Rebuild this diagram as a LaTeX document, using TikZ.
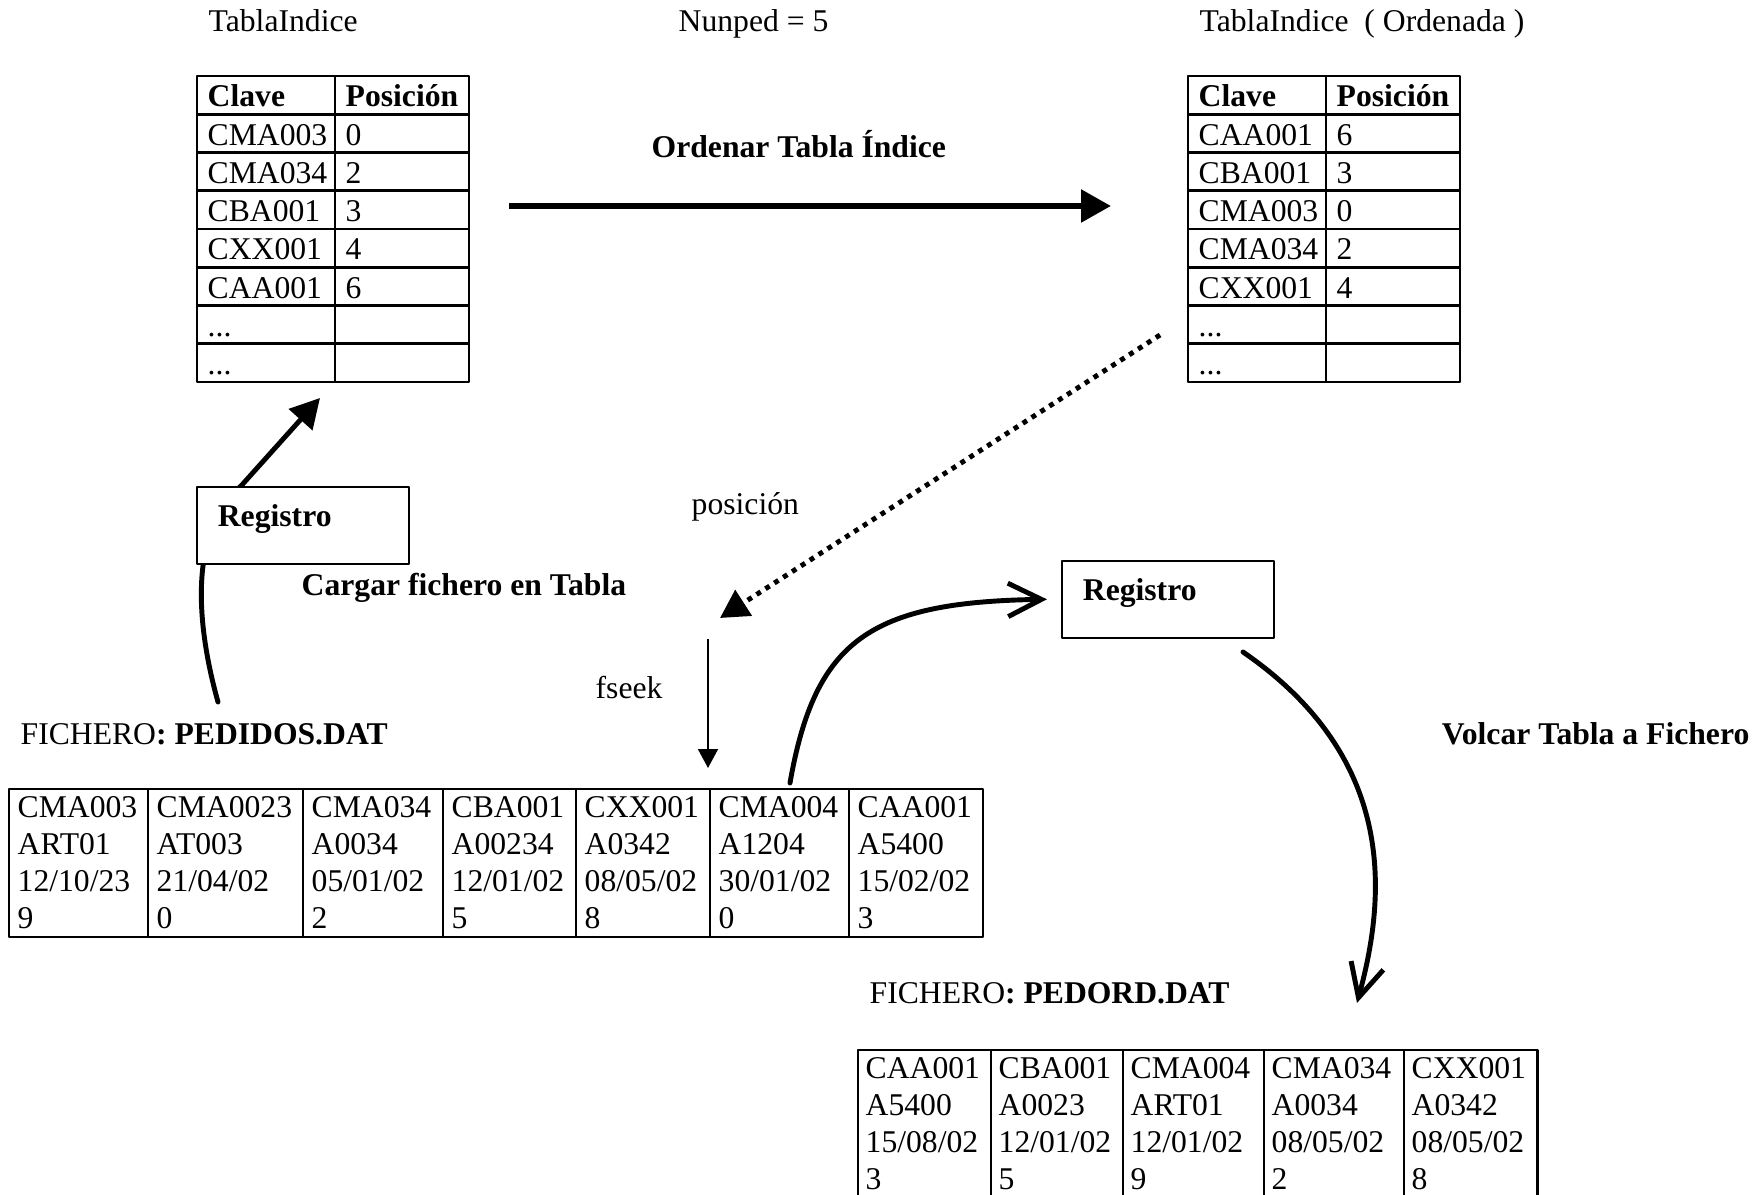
\documentclass[tikz,border=0pt]{standalone}
\usepackage{fontspec}
\setmainfont{Liberation Serif}
\usetikzlibrary{arrows.meta}
\newcommand\tamano{\fontsize{9}{10.44}\selectfont}
\newcommand\suspensivos{...}
\tikzset{
  celda/.style={anchor=base west,inner sep=0pt},
  rotulo/.style={anchor=base west,inner sep=0pt},
  negrita/.style={font=\tamano\bfseries},
  rejilla/.style={line width=0.75pt},
  regbox/.style={draw,fill=white,line width=0.45pt,anchor=north west,align=left,
    text width=48.4pt,inner xsep=6pt,inner ysep=0pt,text height=11.4pt,text depth=10.5pt,
    font=\tamano\bfseries},
  gruesa/.style={line width=1.8pt,-{Triangle[length=8.5pt,width=9pt]}},
  punteada/.style={line width=1.4pt,dash pattern=on 1.4pt off 1.6pt,-{Triangle[length=8pt,width=8.5pt]}},
  curva/.style={line width=1.4pt,line cap=round,-{Straight Barb[length=9.5pt,width=9.5pt]}}
}
\begin{document}
\begin{tikzpicture}[x=0.01cm,y=-0.01cm,font=\tamano,line join=round]
\useasboundingbox (0,0) rectangle (1763,1195);
\node[rotulo] (titulo1) at (208,32) {TablaIndice};
\node[rotulo] (nunped) at (678,32) {Nunped = 5};
\node[rotulo] (titulo2) at (1199,32) {TablaIndice\ \ ( Ordenada )};

\foreach \dx/\tab/\filas in {0/izq/{CMA003/0,CMA034/2,CBA001/3,CXX001/4,CAA001/6,\suspensivos/{},\suspensivos/{}},
    991/der/{CAA001/6,CBA001/3,CMA003/0,CMA034/2,CXX001/4,\suspensivos/{},\suspensivos/{}}}{
  \draw[rejilla] (\dx+197,76) rectangle (\dx+469,382) (\dx+335,76) -- (\dx+335,382);
  \foreach \i in {1,...,7} \draw[rejilla] (\dx+197,76+38.25*\i) -- (\dx+469,76+38.25*\i);
  \node[celda,negrita] (\tab-c0) at (\dx+207,107) {Clave};
  \node[celda,negrita] (\tab-p0) at (\dx+345,107) {Posición};
  \foreach \k/\p [count=\i] in \filas {
    \node[celda] (\tab-c\i) at (\dx+207,107+38.25*\i) {\k};
    \node[celda] (\tab-p\i) at (\dx+345,107+38.25*\i) {\p};
  }
}

\node[rotulo,negrita] (ordenar) at (651,158) {Ordenar Tabla Índice};
\coordinate (ord-a) at (509,206);
\coordinate (ord-b) at (1111,206);
\draw[gruesa] (ord-a) -- (ord-b);

\coordinate (pos-a) at (1160,335);
\coordinate (pos-b) at (720,618);
\draw[punteada] (pos-a) -- (pos-b);
\node[rotulo] (posicion) at (691,515) {posición};

\coordinate (car-a) at (218,702);
\coordinate (car-b) at (320,398);
\draw[line width=1.4pt,line cap=round,-{Triangle[length=8.3pt,width=8.8pt]}]
  (car-a) .. controls (195,620) and (190,530) .. (241,486) -- (car-b);
\node[regbox] (reg1) at (196,486) {Registro};
\node[rotulo,negrita] (cargar) at (301,596) {Cargar fichero en Tabla};

\node[regbox] (reg2) at (1061,560) {Registro};
\coordinate (lee-a) at (790,783);
\draw[curva] (lee-a) .. controls (815,640) and (870,602) .. ([xshift=-4pt]reg2.west);
\coordinate (vol-a) at (1243,652);
\coordinate (vol-b) at (1357,1003);
\draw[curva] (vol-a) .. controls (1400,760) and (1385,900) .. (vol-b);
\node[anchor=base east,inner sep=0pt,negrita] (volcar) at (1750,745) {Volcar Tabla a Fichero};

\coordinate (fs-a) at (708,639);
\coordinate (fs-b) at (708,768);
\draw[line width=0.45pt,-{Triangle[length=5.4pt,width=5.7pt]}] (fs-a) -- (fs-b);
\node[rotulo] (fseek) at (595,699) {fseek};

\node[rotulo] (fich1) at (20,745) {FICHERO\textbf{: PEDIDOS.DAT}};
\draw[rejilla] (9,789) rectangle (983,937);
\foreach \x/\a/\b/\c/\d [count=\i] in {9/CMA003/ART01/{12/10/23}/9,148/CMA0023/AT003/{21/04/02}/0,
    303/CMA034/A0034/{05/01/02}/2,443/CBA001/A00234/{12/01/02}/5,576/CXX001/A0342/{08/05/02}/8,
    710/CMA004/A1204/{30/01/02}/0,849/CAA001/A5400/{15/02/02}/3}{
  \draw[rejilla] (\x,789) -- (\x,937);
  \node[celda] (ped\i-1) at (\x+8,818) {\a};
  \node[celda] (ped\i-2) at (\x+8,854.7) {\b};
  \node[celda] (ped\i-3) at (\x+8,891.4) {\c};
  \node[celda] (ped\i-4) at (\x+8,928.1) {\d};
}

\node[rotulo] (fich2) at (869,1004) {FICHERO\textbf{: PEDORD.DAT}};
\draw[rejilla] (858,1050) rectangle (1537.5,1205);
\foreach \x/\a/\b/\c/\d [count=\i] in {858/CAA001/A5400/{15/08/02}/3,991/CBA001/A0023/{12/01/02}/5,
    1123/CMA004/ART01/{12/01/02}/9,1264/CMA034/A0034/{08/05/02}/2,1404/CXX001/A0342/{08/05/02}/8}{
  \draw[rejilla] (\x,1050) -- (\x,1205);
  \node[celda] (ord\i-1) at (\x+7,1079) {\a};
  \node[celda] (ord\i-2) at (\x+7,1115.7) {\b};
  \node[celda] (ord\i-3) at (\x+7,1152.4) {\c};
  \node[celda] (ord\i-4) at (\x+7,1189.1) {\d};
}
\end{tikzpicture}
\end{document}
